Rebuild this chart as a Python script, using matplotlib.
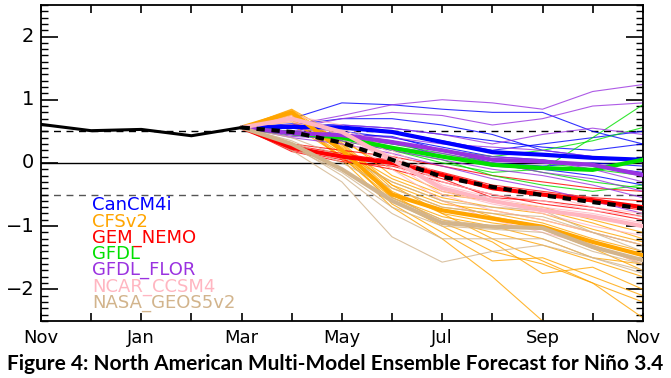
"""
NMME plume for Nino 3.4: observed run-up, member forecasts and model means.
Writes out.png (671x378).
"""

import matplotlib

matplotlib.use("Agg")
import matplotlib.pyplot as plt
from matplotlib.ticker import MultipleLocator

FIG_W, FIG_H, DPI = 6.71, 3.78, 100

# month index 0 = Nov (previous year) ... 12 = Nov
MONTHS = ["Nov", "Dec", "Jan", "Feb", "Mar", "Apr", "May",
          "Jun", "Jul", "Aug", "Sep", "Oct", "Nov"]
OBS_X = [0, 1, 2, 3, 4]
OBS = [0.61, 0.51, 0.53, 0.43, 0.56]
FC_X = [4, 5, 6, 7, 8, 9, 10, 11, 12]   # forecast starts from last obs (Mar)

MODELS = ["CanCM4i", "CFSv2", "GEM_NEMO", "GFDL", "GFDL_FLOR",
          "NCAR_CCSM4", "NASA_GEOS5v2"]
COLORS = ["#0000ff", "#ffa500", "#ff0000", "#00e000", "#9a32e0",
          "#ffb6c1", "#d2b48c"]

# members, Apr..Nov
CANCM4I = [
    [0.70, 0.95, 0.92, 0.85, 0.80, 0.80, 0.50, 0.30],
    [0.60, 0.70, 0.70, 0.60, 0.45, 0.20, 0.10, 0.05],
    [0.55, 0.50, 0.40, 0.25, 0.10, 0.05, -0.05, -0.15],
    [0.50, 0.45, 0.35, 0.10, -0.05, -0.10, -0.20, -0.35],
    [0.60, 0.55, 0.50, 0.35, 0.20, 0.30, 0.40, 0.50],
    [0.55, 0.45, 0.42, 0.20, 0.00, -0.05, 0.00, -0.05],
    [0.62, 0.60, 0.55, 0.45, 0.35, 0.25, 0.20, 0.30],
]
CFSV2 = [
    [0.85, 0.40, -0.20, -0.50, -0.60, -0.70, -0.90, -1.10],
    [0.80, 0.30, -0.40, -0.70, -0.80, -0.95, -1.20, -1.40],
    [0.75, 0.20, -0.55, -0.90, -1.10, -1.30, -1.55, -1.80],
    [0.70, 0.10, -0.60, -1.00, -1.40, -1.60, -1.90, -2.20],
    [0.80, 0.25, -0.35, -0.80, -1.20, -1.55, -1.90, -2.45],
    [0.65, 0.15, -0.30, -0.60, -0.85, -1.00, -1.30, -1.60],
    [0.78, 0.35, -0.10, -0.45, -0.60, -0.75, -0.95, -1.20],
    [0.72, 0.05, -0.70, -1.20, -1.80, -2.50, -2.70, -2.90],
    [0.82, 0.28, -0.45, -0.80, -0.95, -1.05, -1.35, -1.70],
    [0.60, 0.10, -0.50, -0.95, -1.25, -1.75, -1.65, -2.00],
    [0.76, 0.22, -0.25, -0.55, -0.70, -0.80, -1.05, -1.25],
    [0.70, 0.18, -0.65, -1.10, -1.55, -1.50, -1.80, -2.10],
    [0.84, 0.32, -0.35, -0.65, -0.75, -0.90, -1.10, -1.30],
    [0.68, 0.08, -0.55, -0.85, -1.00, -1.20, -1.50, -1.60],
]
GEM_NEMO = [
    [0.30, 0.20, 0.10, -0.05, -0.20, -0.30, -0.40, -0.45],
    [0.20, 0.05, -0.10, -0.30, -0.50, -0.65, -0.75, -0.90],
    [0.25, 0.12, 0.05, -0.15, -0.35, -0.45, -0.55, -0.60],
    [0.18, 0.02, -0.05, -0.25, -0.55, -0.60, -0.70, -0.85],
    [0.28, 0.15, 0.02, -0.20, -0.40, -0.50, -0.62, -0.75],
]
GFDL = [
    [0.50, 0.40, 0.20, 0.00, -0.15, -0.10, 0.40, 0.92],
    [0.45, 0.45, 0.30, 0.20, 0.10, 0.20, 0.35, 0.56],
    [0.45, 0.35, 0.20, 0.05, -0.20, -0.35, -0.45, -0.35],
    [0.50, 0.42, 0.30, 0.15, 0.00, -0.15, -0.30, -0.40],
    [0.45, 0.38, 0.22, 0.10, 0.05, 0.00, -0.10, -0.20],
]
GFDL_FLOR = [
    [0.60, 0.75, 0.92, 1.00, 0.95, 0.85, 1.13, 1.24],
    [0.55, 0.70, 0.80, 0.75, 0.60, 0.70, 0.90, 0.95],
    [0.50, 0.60, 0.55, 0.45, 0.30, 0.45, 0.55, 0.45],
    [0.45, 0.40, 0.30, 0.20, 0.10, 0.05, -0.10, -0.30],
    [0.45, 0.35, 0.20, 0.05, -0.10, -0.20, -0.35, -0.55],
    [0.40, 0.30, 0.15, -0.05, -0.25, -0.40, -0.60, -0.80],
    [0.50, 0.45, 0.40, 0.30, 0.25, 0.20, 0.10, 0.00],
    [0.42, 0.38, 0.25, 0.15, 0.00, -0.15, -0.25, -0.45],
]
NCAR_CCSM4 = [
    [0.75, 0.60, 0.20, -0.20, -0.40, -0.50, -0.70, -0.80],
    [0.65, 0.45, 0.00, -0.50, -0.75, -0.90, -1.10, -1.30],
    [0.70, 0.55, 0.15, -0.35, -0.55, -0.70, -0.80, -0.95],
    [0.60, 0.40, -0.10, -0.60, -0.90, -1.10, -1.30, -1.60],
    [0.72, 0.50, 0.10, -0.30, -0.50, -0.60, -0.75, -0.85],
    [0.68, 0.52, 0.05, -0.45, -0.65, -0.80, -1.00, -1.15],
]
NASA_GEOS5V2 = [
    [0.20, -0.30, -1.17, -1.57, -1.40, -1.30, -1.50, -1.70],
    [0.25, -0.15, -0.70, -1.00, -1.05, -1.10, -1.40, -1.60],
    [0.35, 0.00, -0.40, -0.70, -0.80, -0.85, -1.10, -1.40],
    [0.30, -0.10, -0.55, -0.90, -1.00, -1.00, -1.35, -1.55],
    [0.28, -0.20, -0.80, -1.20, -1.20, -1.20, -1.50, -1.75],
    [0.40, 0.10, -0.30, -0.60, -0.70, -0.75, -1.10, -1.30],
]
MEMBERS = [CANCM4I, CFSV2, GEM_NEMO, GFDL, GFDL_FLOR, NCAR_CCSM4, NASA_GEOS5V2]

# model ensemble means, Apr..Nov
MODEL_MEANS = [
    [0.57, 0.56, 0.49, 0.33, 0.17, 0.13, 0.08, 0.05],
    [0.80, 0.20, -0.50, -0.75, -0.88, -1.01, -1.25, -1.46],
    [0.24, 0.10, 0.00, -0.19, -0.40, -0.50, -0.59, -0.70],
    [0.47, 0.40, 0.24, 0.10, -0.03, -0.08, -0.11, 0.05],
    [0.47, 0.44, 0.33, 0.20, 0.05, 0.02, -0.03, -0.19],
    [0.70, 0.49, 0.05, -0.40, -0.60, -0.75, -0.85, -1.00],
    [0.30, -0.10, -0.60, -0.95, -1.01, -1.03, -1.33, -1.54],
]
NMME_MEAN = [0.49, 0.32, 0.05, -0.22, -0.38, -0.51, -0.62, -0.72]

AX_FONT = "DejaVu Sans"


def main():
    fig = plt.figure(figsize=(FIG_W, FIG_H), dpi=DPI)
    ax = fig.add_axes([0.061, 0.151, 0.897, 0.836])

    start = OBS[-1]
    # thin members
    for members, c in zip(MEMBERS, COLORS):
        for m in members:
            ax.plot(FC_X, [start] + m, color=c, linewidth=0.8, alpha=0.8, zorder=2)
    # thick model means
    for mean, c in zip(MODEL_MEANS, COLORS):
        ax.plot(FC_X, [start] + mean, color=c, linewidth=3.0, zorder=3,
                solid_capstyle="round")
    ax.plot(FC_X, [start] + NMME_MEAN, color="black", linewidth=3.0,
            linestyle=(0, (2.0, 1.6)), zorder=4)
    ax.plot(OBS_X, OBS, color="black", linewidth=2.2, zorder=4)

    ax.axhline(0, color="black", linewidth=1.0, zorder=1)
    ax.axhline(0.5, color="black", linewidth=1.0, linestyle=(0, (5, 4)), zorder=1)
    ax.axhline(-0.5, color="#555555", linewidth=1.0, linestyle=(0, (5, 4)), zorder=1)

    ax.set_xlim(0, 12)
    ax.set_ylim(-2.5, 2.5)
    ax.set_xticks(range(len(MONTHS)))
    ax.set_xticklabels([m if i % 2 == 0 else "" for i, m in enumerate(MONTHS)],
                       fontsize=13, family=AX_FONT)
    ax.yaxis.set_major_locator(MultipleLocator(1))
    ax.yaxis.set_minor_locator(MultipleLocator(0.1))
    ax.set_yticklabels([])
    for v in [-2, -1, 0, 1, 2]:
        ax.text(-0.13, v, "\u2212%d" % abs(v) if v < 0 else "%d" % v,
                ha="right", va="center", fontsize=14, family=AX_FONT)

    ax.tick_params(axis="x", which="major", direction="in", length=6, width=1.2,
                   top=True, pad=6)
    ax.tick_params(axis="y", which="major", direction="in", length=12, width=1.2,
                   right=True)
    ax.tick_params(axis="y", which="minor", direction="in", length=5, width=1.0,
                   right=True)
    for s in ax.spines.values():
        s.set_linewidth(1.3)

    # model names, one per line, tight like the original key
    for i, (name, c) in enumerate(zip(MODELS, COLORS)):
        ax.text(1.02, -0.67 - 0.258 * i, name, color=c, fontsize=13,
                family=AX_FONT, va="center", ha="left", zorder=5)

    fig.text(0.5, 0.036, "Figure 4: North American Multi-Model Ensemble Forecast for Niño 3.4",
             ha="center", va="center", fontsize=15, fontweight="bold",
             family="Lato")

    fig.savefig("out.png", dpi=DPI)
    plt.close(fig)


if __name__ == "__main__":
    main()
